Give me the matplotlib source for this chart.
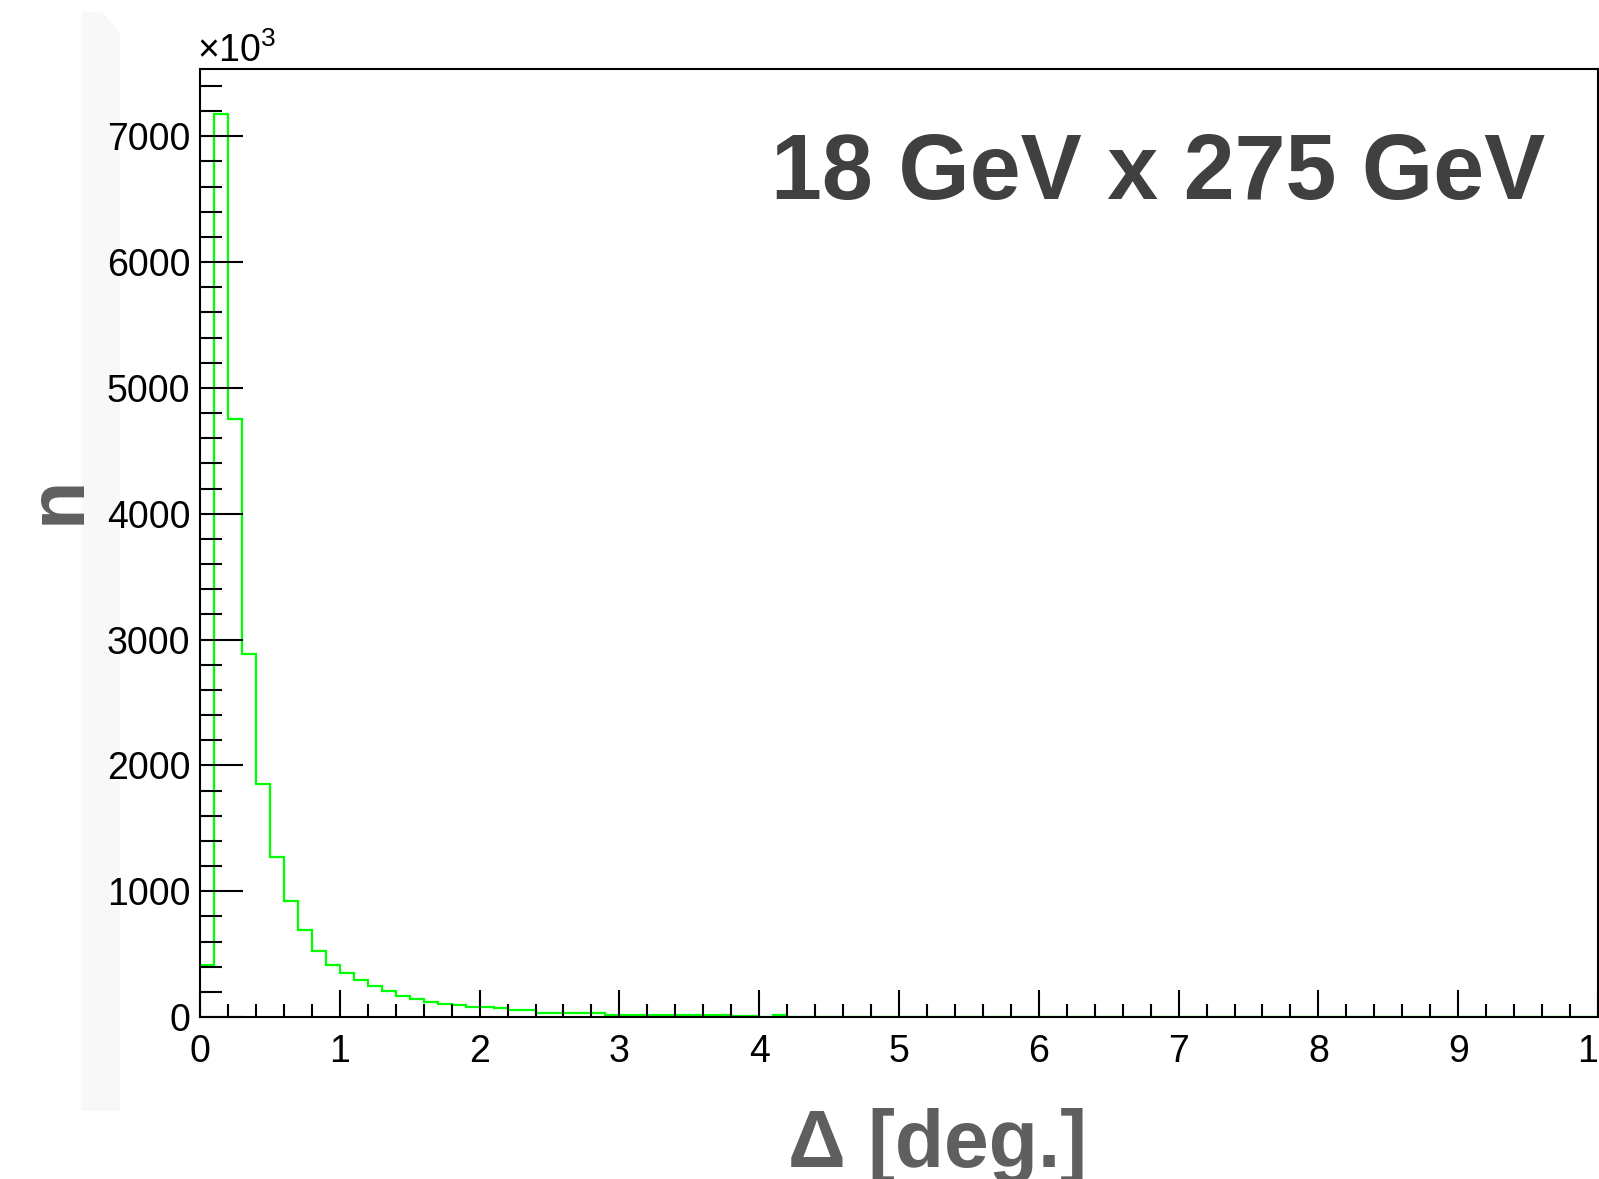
import numpy as np
import matplotlib
matplotlib.use("Agg")
import matplotlib.pyplot as plt
from matplotlib.patches import Polygon
from matplotlib.ticker import MultipleLocator

plt.rcParams['font.family'] = ['Liberation Sans', 'DejaVu Sans']

# histogram contents, 0.1 deg bins from 0 to 10 (axis shown in units of 10^3)
bin_width = 0.1
n_bins = 100
counts_head = [416, 7176, 4754, 2888, 1850, 1274, 924, 693, 528, 416,
               353, 292, 247, 207, 165, 141, 119, 101, 98, 80,
               78, 75, 56, 54, 34, 33, 31, 30, 29, 16,
               15, 15, 14, 14, 13, 13, 12, 12, 11, 11,
               3, 12]
counts = np.array(counts_head + [0] * (n_bins - len(counts_head)))
edges = np.arange(n_bins + 1) * bin_width

x_ticks = list(range(0, 11))
x_labels = [str(v) for v in x_ticks]
y_ticks = list(range(0, 7001, 1000))

title = '18 GeV x 275 GeV'
x_title = 'Δ [deg.]'
y_title = 'n'

W, H = 1599, 1179
fig = plt.figure(figsize=(W / 100, H / 100), dpi=100)

# faint grey strip left of the axis (scan artefact in the original)
strip = [(81.7, 11.7), (101.7, 11.7), (120, 33), (120, 1111), (81.7, 1111)]
fig.patches.append(Polygon([(x / W, 1 - y / H) for x, y in strip], closed=True,
                           transform=fig.transFigure, facecolor='#f8f8f8',
                           edgecolor='none', zorder=-1))

ax = fig.add_axes([200 / W, 162 / H, 1398 / W, 948 / H])
ax.patch.set_alpha(0)
ax.stairs(counts, edges, baseline=None, color='#00ff00', lw=1.6)

ax.set_xlim(0, 10)
ax.set_ylim(0, 1.05 * counts.max())
ax.set_xticks(x_ticks)
ax.set_xticklabels(x_labels)
ax.set_yticks(y_ticks)
ax.xaxis.set_minor_locator(MultipleLocator(0.2))
ax.yaxis.set_minor_locator(MultipleLocator(200))

ax.tick_params(axis='both', which='both', direction='in', width=1.5,
               colors='black', labelsize=27)
ax.tick_params(axis='y', which='major', length=31, pad=7)
ax.tick_params(axis='y', which='minor', length=16)
ax.tick_params(axis='x', which='major', length=19.5, pad=12)
ax.tick_params(axis='x', which='minor', length=9.5)
for s in ax.spines.values():
    s.set_linewidth(1.5)

fig.text(197 / W, 1 - 62 / H, r'$\mathregular{\times10^{3}}$', fontsize=27,
         ha='left', va='baseline')
fig.text(1545 / W, 1 - 199 / H, title, fontsize=66, fontweight='bold',
         color='#404040', ha='right', va='baseline')
fig.text(938 / W, 1 - 1167 / H, x_title, fontsize=58, fontweight='bold',
         color='#5f5f5f', ha='center', va='baseline')
fig.text(80 / W, 1 - 524 / H, y_title, fontsize=57, fontweight='bold',
         color='#5f5f5f', rotation=90, rotation_mode='anchor',
         ha='left', va='baseline')

fig.savefig('out.png', dpi=100)
